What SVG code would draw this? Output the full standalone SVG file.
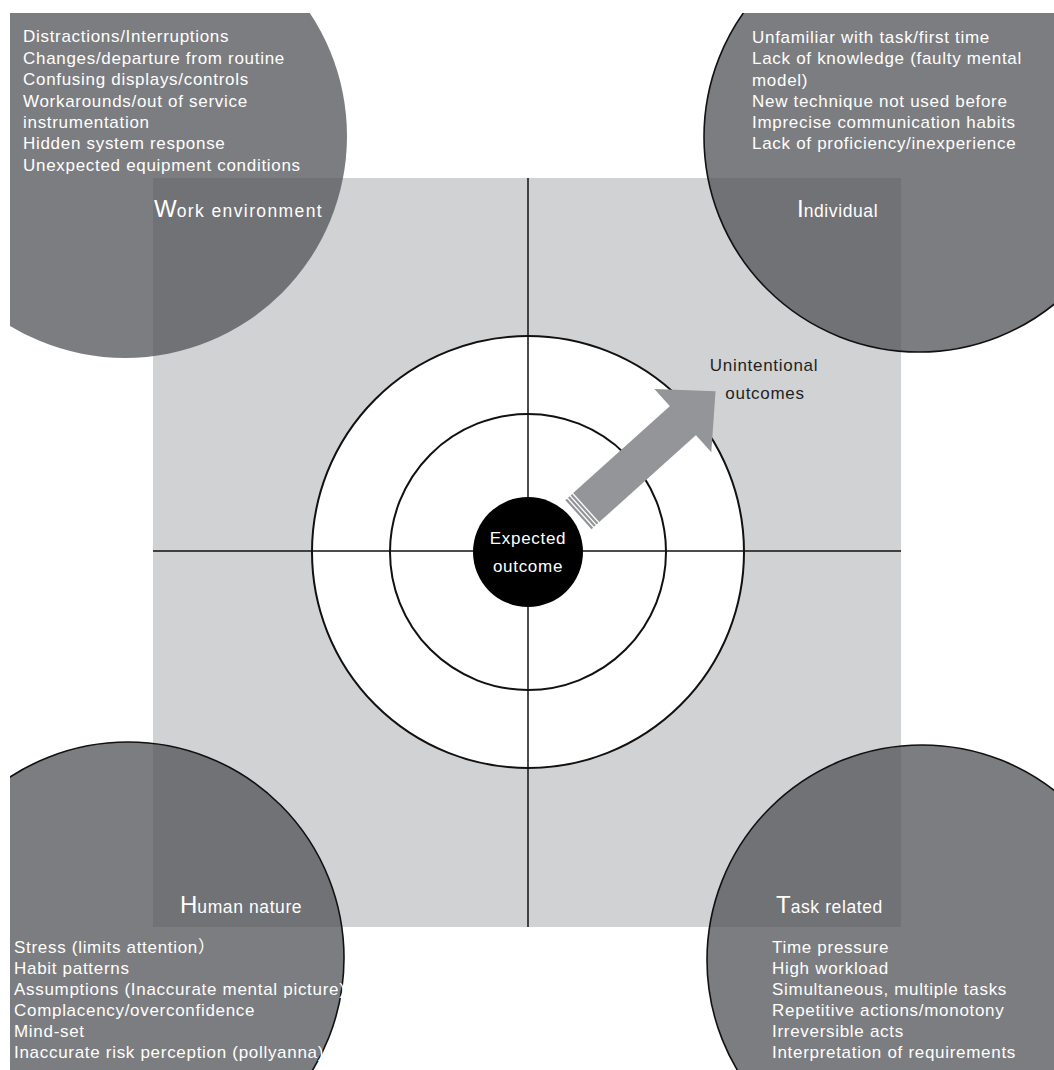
<svg xmlns="http://www.w3.org/2000/svg" width="1054" height="1070" viewBox="0 0 1054 1070">
<defs>
<style>
.t{font-family:"Liberation Sans",Arial,"Noto Sans CJK SC",sans-serif;font-size:17px;letter-spacing:0.7px;fill:#fff}
.lab{font-family:"Liberation Sans",Arial,sans-serif;font-size:17.5px;letter-spacing:0.6px;fill:#fff}
.cap{font-size:24px;letter-spacing:0}
.dark{fill:#535458;fill-opacity:0.76}
.ol{stroke:#111;stroke-width:1.6}
.ring{fill:none;stroke:#111;stroke-width:2}
.ax{stroke:#111;stroke-width:1.5}
.arr{fill:#939598}
</style>
<clipPath id="page"><rect x="10" y="13" width="1044" height="1057"/></clipPath>
</defs>
<rect width="1054" height="1070" fill="#fff"/>
<rect x="153" y="178" width="748" height="749" fill="#d1d2d4"/>
<g id="target">
<circle cx="528" cy="552" r="216" fill="#fff" stroke="#111" stroke-width="2"/>
<circle class="ring" cx="528" cy="552" r="138"/>
</g>
<g id="connectors">
<line class="ax" x1="528" y1="178" x2="528" y2="927"/>
<line class="ax" x1="153" y1="551" x2="901" y2="551"/>
<g id="arrow" class="arr" transform="rotate(-42)">
<rect x="96" y="750" width="131" height="39"/>
<polygon points="226,727 270,769.5 226,812"/>
<rect x="85.5" y="750" width="2.2" height="39"/>
<rect x="89" y="750" width="2.2" height="39"/>
<rect x="92.5" y="750" width="2.2" height="39"/>
</g>
</g>
<g id="node-expected">
<circle cx="528" cy="552" r="55" fill="#000"/>
<text class="t" x="528" y="544" text-anchor="middle">Expected</text>
<text class="t" x="528" y="572" text-anchor="middle">outcome</text>
</g>
<g id="node-unintentional">
<text class="t" x="764" y="371" text-anchor="middle" style="fill:#231f20">Unintentional</text>
<text class="t" x="765" y="399" text-anchor="middle" style="fill:#231f20">outcomes</text>
</g>
<g clip-path="url(#page)">
<g id="node-work-environment">
<circle class="dark" cx="125" cy="136" r="222"/>
</g>
<g id="node-individual">
<circle class="dark ol" cx="919" cy="137" r="215"/>
</g>
<g id="node-human-nature">
<circle class="dark ol" cx="128" cy="958" r="216"/>
</g>
<g id="node-task-related">
<circle class="dark ol" cx="922" cy="960" r="215"/>
</g>
</g>
<g id="labels-work-environment">
<text class="t" x="23" y="42">Distractions/Interruptions</text>
<text class="t" x="23" y="64">Changes/departure from routine</text>
<text class="t" x="23" y="85">Confusing displays/controls</text>
<text class="t" x="23" y="107">Workarounds/out of service</text>
<text class="t" x="23" y="128">instrumentation</text>
<text class="t" x="23" y="149">Hidden system response</text>
<text class="t" x="23" y="171">Unexpected equipment conditions</text>
<text class="lab" x="154" y="217" style="letter-spacing:1.4px"><tspan class="cap">W</tspan>ork environment</text>
</g>
<g id="labels-individual">
<text class="t" x="752" y="43">Unfamiliar with task/first time</text>
<text class="t" x="752" y="64">Lack of knowledge (faulty mental</text>
<text class="t" x="752" y="86">model)</text>
<text class="t" x="752" y="107">New technique not used before</text>
<text class="t" x="752" y="128">Imprecise communication habits</text>
<text class="t" x="752" y="149">Lack of proficiency/inexperience</text>
<text class="lab" x="797" y="217"><tspan class="cap">I</tspan>ndividual</text>
</g>
<g id="labels-human-nature">
<text class="lab" x="180" y="913"><tspan class="cap">H</tspan>uman nature</text>
<text class="t" x="14" y="953">Stress (limits attention）</text>
<text class="t" x="14" y="974">Habit patterns</text>
<text class="t" x="14" y="995">Assumptions (Inaccurate mental picture)</text>
<text class="t" x="14" y="1016">Complacency/overconfidence</text>
<text class="t" x="14" y="1037">Mind-set</text>
<text class="t" x="14" y="1058">Inaccurate risk perception (pollyanna)</text>
</g>
<g id="labels-task-related">
<text class="lab" x="776" y="913"><tspan class="cap">T</tspan>ask related</text>
<text class="t" x="772" y="953">Time pressure</text>
<text class="t" x="772" y="974">High workload</text>
<text class="t" x="772" y="995">Simultaneous, multiple tasks</text>
<text class="t" x="772" y="1016">Repetitive actions/monotony</text>
<text class="t" x="772" y="1037">Irreversible acts</text>
<text class="t" x="772" y="1058">Interpretation of requirements</text>
</g>
</svg>
